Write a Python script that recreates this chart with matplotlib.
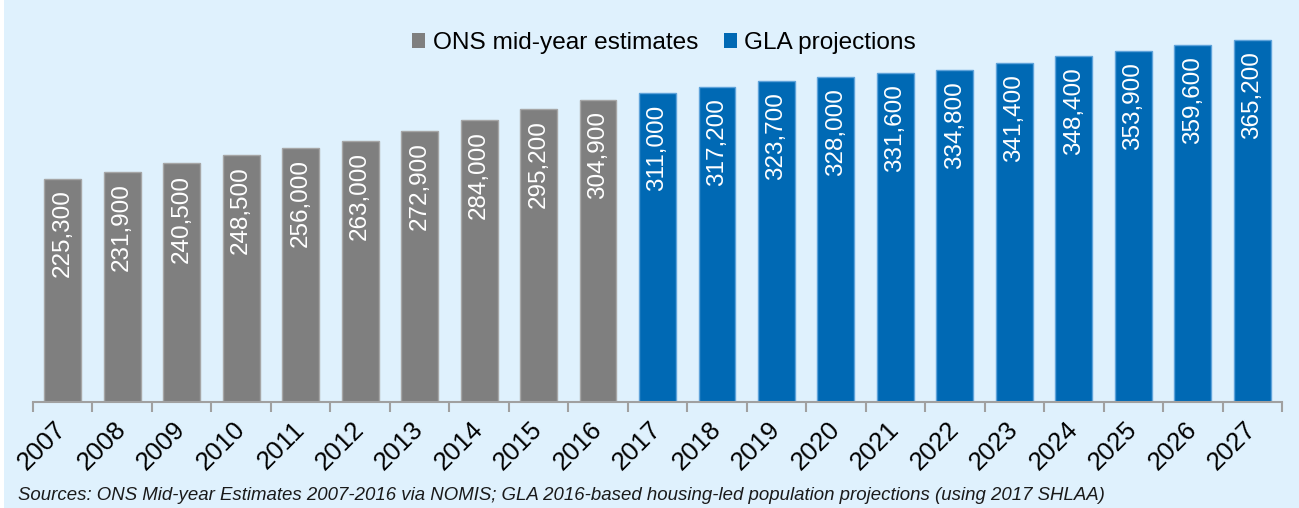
import matplotlib
matplotlib.use("Agg")
import matplotlib.pyplot as plt
from matplotlib.patches import Rectangle, Patch
import numpy as np

years = [str(y) for y in range(2007, 2028)]
ons_values = [225300, 231900, 240500, 248500, 256000, 263000, 272900, 284000, 295200, 304900]
gla_values = [311000, 317200, 323700, 328000, 331600, 334800, 341400, 348400, 353900, 359600, 365200]
series_names = ["ONS mid-year estimates", "GLA projections"]
source_text = ("Sources: ONS Mid-year Estimates 2007-2016 via NOMIS; GLA 2016-based "
               "housing-led population projections (using 2017 SHLAA)")

plt.rcParams['font.family'] = ['Liberation Sans', 'DejaVu Sans']

W, H = 1299, 508
bg = '#DFF1FD'
grey = '#7F7F7F'
grey_edge = '#A6A6A6'
blue = '#0069B4'
blue_edge = '#5FA3DA'

fig = plt.figure(figsize=(W / 100, H / 100), dpi=100)
fig.patch.set_facecolor(bg)
fig.patches.append(Rectangle((0, 0), 4 / W, 1, transform=fig.transFigure,
                             facecolor='white', edgecolor='none', zorder=0))

left, right = 33 / W, 1282 / W
bottom, top = (H - 402) / H, (H - 30) / H
ax = fig.add_axes([left, bottom, right - left, top - bottom])
ax.set_facecolor(bg)

x_ons = np.arange(len(ons_values))
x_gla = np.arange(len(ons_values), len(ons_values) + len(gla_values))
bw = 0.62
ax.bar(x_ons, ons_values, width=bw, color=grey, edgecolor=grey_edge, linewidth=1.0)
ax.bar(x_gla, gla_values, width=bw, color=blue, edgecolor=blue_edge, linewidth=1.0)

ax.set_xlim(-0.5, len(years) - 0.5)
ax.set_ylim(0, 375000)

for xs, vals in ((x_ons, ons_values), (x_gla, gla_values)):
    for xi, v in zip(xs, vals):
        ax.annotate(f"{v:,}", xy=(xi, v), xytext=(0, -8), textcoords='offset points',
                    rotation=90, ha='center', va='top', color='white', fontsize=17.5)

for s in ('top', 'right', 'left'):
    ax.spines[s].set_visible(False)
ax.spines['bottom'].set_color('#A0A0A0')
ax.spines['bottom'].set_linewidth(1.5)
ax.set_yticks([])

ax.set_xticks(np.arange(len(years)))
ax.set_xticklabels(years, rotation=45, ha='right', va='center', rotation_mode='anchor',
                   fontsize=18.5)
ax.tick_params(axis='x', which='major', length=0, pad=17)
ax.set_xticks(np.arange(-0.5, len(years), 1.0), minor=True)
ax.tick_params(axis='x', which='minor', length=7, width=1.5, color='#A0A0A0')

handles = [Patch(facecolor=grey, edgecolor='none'), Patch(facecolor=blue, edgecolor='none')]
fig.legend(handles, series_names, loc='center', bbox_to_anchor=(664 / W, 1 - 43 / H),
           ncol=2, frameon=False, fontsize=17.6, handlelength=0.55, handleheight=0.55,
           handletextpad=0.3, columnspacing=1.05)

fig.text(18 / W, 1 - 495 / H, source_text, fontsize=13.4, style='italic',
         ha='left', va='center', color='#1a1a1a')

fig.savefig('out.png', dpi=100, facecolor=fig.get_facecolor())
